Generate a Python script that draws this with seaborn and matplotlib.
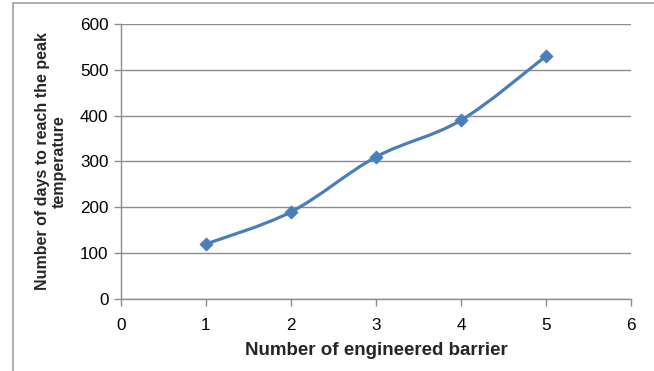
import numpy as np
import pandas as pd
import seaborn as sns
import matplotlib
matplotlib.use("Agg")
import matplotlib.pyplot as plt
from matplotlib.path import Path
from matplotlib.patches import PathPatch
from matplotlib.lines import Line2D

# Data
barriers = [1, 2, 3, 4, 5]
days_to_peak = [120, 190, 310, 390, 530]
x_ticks = [0, 1, 2, 3, 4, 5, 6]
y_ticks = [0, 100, 200, 300, 400, 500, 600]

LINE_BLUE = "#4A7EBB"
GRID_GRAY = "#8C8C8C"

sns.set_theme(style="white")
plt.rcParams["font.family"] = ["Liberation Sans", "DejaVu Sans"]

df = pd.DataFrame({"barriers": barriers, "days": days_to_peak})

fig = plt.figure(figsize=(6.54, 3.71), dpi=100)
ax = fig.add_axes([121 / 654, 1 - 299 / 371, 510 / 654, 275 / 371])

# Smoothed connector (Catmull-Rom style Bezier through the data points)
xs = np.asarray(barriers, dtype=float)
ys = np.asarray(days_to_peak, dtype=float)
verts = [(xs[0], ys[0])]
codes = [Path.MOVETO]
n = len(xs)
t = 1.0 / 6.0
for i in range(n - 1):
    p0 = (xs[max(i - 1, 0)], ys[max(i - 1, 0)])
    p1 = (xs[i], ys[i])
    p2 = (xs[i + 1], ys[i + 1])
    p3 = (xs[min(i + 2, n - 1)], ys[min(i + 2, n - 1)])
    c1 = (p1[0] + (p2[0] - p0[0]) * t, p1[1] + (p2[1] - p0[1]) * t)
    c2 = (p2[0] - (p3[0] - p1[0]) * t, p2[1] - (p3[1] - p1[1]) * t)
    verts += [c1, c2, p2]
    codes += [Path.CURVE4] * 3
ax.add_patch(PathPatch(Path(verts, codes), facecolor="none",
                       edgecolor=LINE_BLUE, lw=2.3, capstyle="round",
                       joinstyle="round", zorder=3))

sns.scatterplot(data=df, x="barriers", y="days", marker="D", s=45,
                color=LINE_BLUE, edgecolor=LINE_BLUE, linewidth=0.5,
                ax=ax, zorder=4, legend=False)

ax.set_xlim(0, 6)
ax.set_ylim(0, 600)
ax.set_xticks(x_ticks)
ax.set_yticks(y_ticks)
ax.set_xticklabels([str(v) for v in x_ticks], fontsize=12.3, color="black")
ax.set_yticklabels([str(v) for v in y_ticks], fontsize=12.3, color="black")

ax.grid(axis="y", color=GRID_GRAY, lw=1.0)
ax.grid(axis="x", visible=False)
ax.set_axisbelow(True)

for side in ["top", "right"]:
    ax.spines[side].set_visible(False)
for side in ["left", "bottom"]:
    ax.spines[side].set_color(GRID_GRAY)
    ax.spines[side].set_linewidth(1.0)

ax.tick_params(axis="both", which="both", direction="out", length=5,
               width=1.0, color=GRID_GRAY, bottom=True, left=True)
ax.tick_params(axis="x", pad=9)
ax.tick_params(axis="y", pad=4)

ax.set_xlabel("Number of engineered barrier", fontsize=13.5,
              fontweight="bold", labelpad=6)
ax.set_ylabel("Number of days to reach the peak\ntemperature", fontsize=11.5,
              fontweight="bold", linespacing=1.15)
ax.yaxis.set_label_coords(-0.106, 0.5)

# Outer chart frame (left and top edges)
fig.add_artist(Line2D([12.5 / 654, 12.5 / 654], [0, 1 - 3 / 371],
                      transform=fig.transFigure, color="#A0A0A0", lw=1.2))
fig.add_artist(Line2D([12.5 / 654, 1], [1 - 3 / 371, 1 - 3 / 371],
                      transform=fig.transFigure, color="#A0A0A0", lw=1.2))

fig.savefig("out.png", dpi=100, facecolor="white")
